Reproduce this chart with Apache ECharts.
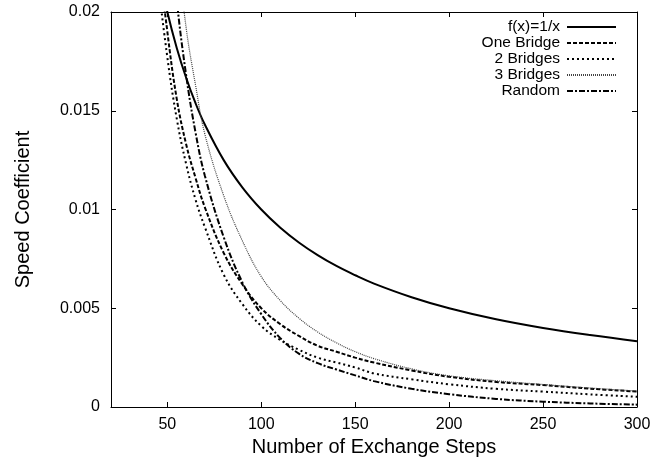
<!DOCTYPE html>
<html>
<head>
<meta charset="utf-8">
<script src="https://cdn.jsdelivr.net/npm/echarts@6/dist/echarts.min.js"></script>
<style>html,body{margin:0;padding:0;background:#fff}#c{width:655px;height:464px}</style>
</head>
<body>
<div id="c"></div>
<script>
const xSteps   = [40, 45, 50, 55, 60, 65, 70, 80, 90, 100, 110, 120, 130, 140, 150, 160, 180, 200, 225, 250, 275, 300];
const fInv     = [0.025, 0.02222, 0.02, 0.01818, 0.01667, 0.01538, 0.01429, 0.0125, 0.01111, 0.01, 0.00909, 0.00833, 0.00769, 0.00714, 0.00667, 0.00625, 0.00556, 0.005, 0.00444, 0.004, 0.00364, 0.00333];
const oneBridge = [0.0290, 0.0232, 0.0190, 0.0156, 0.0133, 0.0116, 0.0101, 0.0078, 0.0062, 0.0050, 0.0042, 0.0036, 0.0031, 0.0028, 0.0025, 0.00225, 0.00185, 0.00153, 0.00127, 0.00111, 0.00093, 0.00078];
const twoBridges = [0.0280, 0.0218, 0.0177, 0.0146, 0.0123, 0.0105, 0.0091, 0.0067, 0.0052, 0.0041, 0.0034, 0.0029, 0.0025, 0.00225, 0.0020, 0.0017, 0.00140, 0.00115, 0.00092, 0.00078, 0.00064, 0.00052];
const threeBridges = [0.045, 0.036, 0.0285, 0.0235, 0.0192, 0.0163, 0.0138, 0.0107, 0.0084, 0.0066, 0.0054, 0.0045, 0.0038, 0.00325, 0.0028, 0.00245, 0.00193, 0.00158, 0.00133, 0.00114, 0.00096, 0.00081];
const randomEx = [0.050, 0.036, 0.0258, 0.0206, 0.0168, 0.0139, 0.0117, 0.0086, 0.0063, 0.0047, 0.0035, 0.0027, 0.00222, 0.0019, 0.0016, 0.00131, 0.00092, 0.00065, 0.00041, 0.00027, 0.00018, 0.00012];
const xTicks = [50, 100, 150, 200, 250, 300];
const names = ['f(x)=1/x', 'One Bridge', '2 Bridges', '3 Bridges', 'Random'];

const FONT = '"Liberation Sans", Arial, sans-serif';
const pair = ys => xSteps.map((x, i) => [x, ys[i]]);
const styles = [
  {color: '#000', width: 2, type: 'solid'},
  {color: '#000', width: 2, type: [4, 2]},
  {color: '#000', width: 2, type: [2, 3]},
  {color: '#444', width: 1.2, type: [1, 1]},
  {color: '#000', width: 2, type: [6, 2, 2, 2]}
];
const datas = [fInv, oneBridge, twoBridges, threeBridges, randomEx];

const chart = echarts.init(document.getElementById('c'), null, {renderer: 'canvas'});
chart.setOption({
  animation: false,
  backgroundColor: '#fff',
  textStyle: {fontFamily: FONT, color: '#000'},
  grid: {left: 111, right: 18, top: 12, bottom: 57, containLabel: false},
  legend: {
    orient: 'vertical', right: 38, top: 19, padding: 0, align: 'right',
    itemWidth: 49, itemHeight: 10, itemGap: 0,
    data: names,
    itemStyle: {opacity: 0},
    textStyle: {fontFamily: FONT, fontSize: 15.5, color: '#000', lineHeight: 15.5, width: 90, align: 'right', padding: [0, 2, 0, 0]}
  },
  xAxis: [{
    type: 'value', min: 20, max: 300, position: 'bottom',
    name: 'Number of Exchange Steps', nameLocation: 'middle', nameGap: 26,
    nameTextStyle: {fontFamily: FONT, fontSize: 20, color: '#000'},
    axisLine: {show: true, onZero: false, lineStyle: {color: '#000', width: 1}},
    axisTick: {show: true, inside: true, length: 5, customValues: xTicks, lineStyle: {color: '#000'}},
    axisLabel: {show: true, margin: 10, fontSize: 16, color: '#000', fontFamily: FONT, customValues: xTicks},
    splitLine: {show: false}
  }, {
    type: 'value', min: 20, max: 300, position: 'top',
    axisLine: {show: true, onZero: false, lineStyle: {color: '#000', width: 1}},
    axisTick: {show: true, inside: true, length: 5, customValues: xTicks, lineStyle: {color: '#000'}},
    axisLabel: {show: false},
    splitLine: {show: false}
  }],
  yAxis: [{
    type: 'value', min: 0, max: 0.02, interval: 0.005, position: 'left',
    name: 'Speed Coefficient', nameLocation: 'middle', nameGap: 78,
    nameTextStyle: {fontFamily: FONT, fontSize: 20, color: '#000'},
    axisLine: {show: true, onZero: false, lineStyle: {color: '#000', width: 1}},
    axisTick: {show: true, inside: true, length: 5, lineStyle: {color: '#000'}},
    axisLabel: {show: true, margin: 11, fontSize: 16, color: '#000', fontFamily: FONT},
    splitLine: {show: false}
  }, {
    type: 'value', min: 0, max: 0.02, interval: 0.005, position: 'right',
    axisLine: {show: true, onZero: false, lineStyle: {color: '#000', width: 1}},
    axisTick: {show: true, inside: true, length: 5, lineStyle: {color: '#000'}},
    axisLabel: {show: false},
    splitLine: {show: false}
  }],
  series: names.map((n, i) => ({
    name: n, type: 'line', xAxisIndex: 0, yAxisIndex: 0,
    data: pair(datas[i]),
    smooth: 0.4,
    symbol: 'none', showSymbol: false, clip: true,
    color: styles[i].color,
    lineStyle: styles[i]
  }))
});
</script>
</body>
</html>
